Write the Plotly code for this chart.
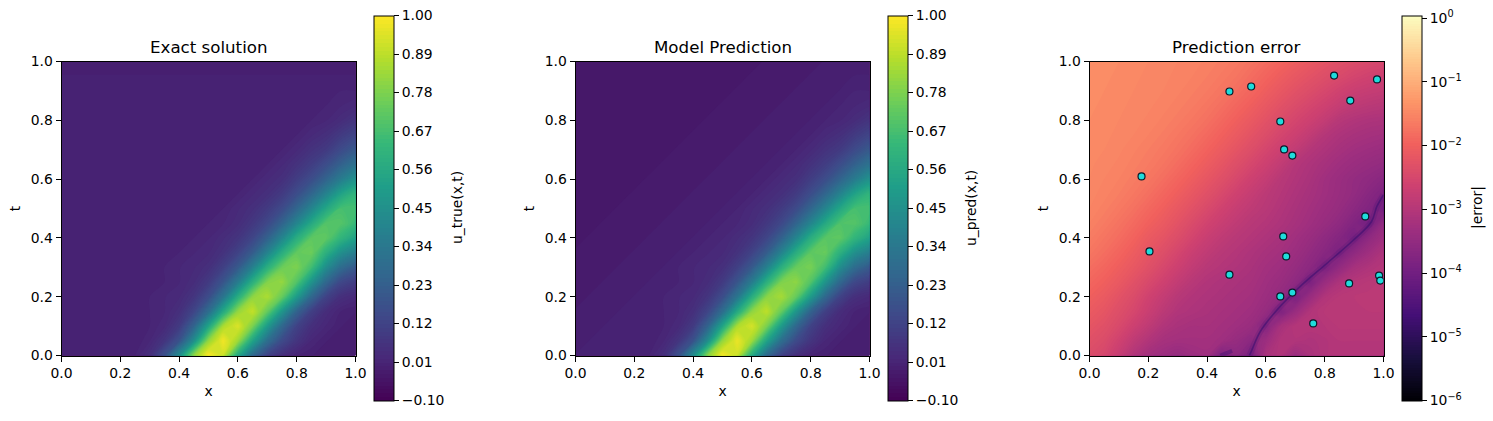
import plotly.graph_objects as go

W, H = 1493, 421
x_grid = [0, .05, .1, .15, .2, .25, .3, .35, .4, .45, .5, .55, .6, .65, .7, .75, .8, .85, .9, .95, 1]
t_grid = [0, .05, .1, .15, .2, .25, .3, .35, .4, .45, .5, .55, .6, .65, .7, .75, .8, .85, .9, .95, 1]

u_true = [
[0,0,0,0,0,.01,.05,.18,.44,.82,1.0,.92,.56,.28,.12,.05,.01,0,-.01,-.01,-.01],
[0,0,0,0,0,0,.02,.07,.18,.44,.82,.98,.84,.54,.3,.15,.07,.02,0,-.01,-.01],
[0,0,0,0,0,0,.01,.03,.09,.25,.54,.86,.94,.78,.5,.27,.12,.05,.02,0,-.01],
[0,0,0,0,0,0,.01,.02,.05,.13,.29,.56,.82,.9,.74,.48,.25,.11,.04,.01,0],
[0,0,0,0,0,0,.01,.02,.03,.07,.16,.33,.58,.81,.86,.74,.5,.27,.12,.05,.03],
[0,0,0,0,0,0,0,.01,.02,.04,.09,.19,.36,.59,.79,.82,.7,.47,.27,.14,.1],
[0,0,0,0,0,0,0,.01,.02,.03,.05,.11,.21,.38,.59,.75,.78,.66,.44,.29,.21],
[0,0,0,0,0,0,0,0,.01,.02,.03,.06,.12,.22,.39,.58,.73,.75,.6,.45,.37],
[0,0,0,0,0,0,0,0,0,.01,.02,.04,.07,.13,.24,.4,.58,.72,.72,.62,.53],
[0,0,0,0,0,0,0,0,0,0,.01,.02,.04,.08,.14,.25,.4,.56,.7,.7,.64],
[0,0,0,0,0,0,0,0,0,0,0,.01,.03,.05,.09,.15,.26,.4,.55,.67,.67],
[0,0,0,0,0,0,0,0,0,0,0,0,.01,.03,.05,.09,.16,.26,.39,.53,.62],
[0,0,0,0,0,0,0,0,0,0,0,0,0,.01,.03,.05,.1,.16,.25,.36,.46],
[0,0,0,0,0,0,0,0,0,0,0,0,0,0,.01,.03,.06,.1,.16,.24,.32],
[0,0,0,0,0,0,0,0,0,0,0,0,0,0,0,.01,.03,.06,.09,.15,.21],
[0,0,0,0,0,0,0,0,0,0,0,0,0,0,0,0,.01,.03,.05,.09,.13],
[0,0,0,0,0,0,0,0,0,0,0,0,0,0,0,0,0,.01,.02,.04,.07],
[0,0,0,0,0,0,0,0,0,0,0,0,0,0,0,0,0,0,.01,.02,.03],
[0,0,0,0,0,0,0,0,0,0,0,0,0,0,0,0,0,0,0,.01,.01],
[0,0,0,0,0,0,0,0,0,0,0,0,0,0,0,0,0,0,0,0,0],
[-.01,-.01,-.01,-.01,-.01,-.01,-.01,-.01,-.01,-.01,-.01,-.01,-.01,-.01,-.01,-.01,-.01,-.01,-.01,-.01,-.01],
]

u_pred = [
[0,0,0,0,0,.01,.05,.18,.44,.81,.99,.92,.57,.28,.12,.05,.01,0,-.01,-.01,-.01],
[-.01,0,0,0,0,0,.02,.07,.18,.44,.82,.97,.84,.54,.3,.15,.07,.02,0,-.01,-.01],
[-.01,-.01,0,0,0,0,.01,.03,.09,.25,.54,.86,.93,.78,.5,.27,.12,.05,.02,0,-.01],
[-.01,-.01,-.01,0,0,0,.01,.02,.05,.13,.29,.56,.81,.89,.74,.48,.25,.11,.04,.01,0],
[-.02,-.01,-.01,-.01,0,0,.01,.02,.03,.07,.16,.33,.58,.8,.85,.74,.5,.27,.12,.05,.03],
[-.02,-.02,-.01,-.01,-.01,0,0,.01,.02,.04,.09,.19,.36,.59,.78,.81,.7,.47,.27,.14,.1],
[-.02,-.02,-.02,-.01,-.01,-.01,0,.01,.02,.03,.05,.11,.21,.38,.59,.74,.77,.66,.44,.29,.21],
[-.02,-.02,-.02,-.02,-.01,-.01,-.01,0,.01,.02,.03,.06,.12,.22,.39,.58,.72,.74,.6,.45,.37],
[-.03,-.02,-.02,-.02,-.02,-.01,-.01,-.01,0,.01,.02,.04,.07,.13,.24,.4,.58,.71,.72,.62,.53],
[-.03,-.03,-.02,-.02,-.02,-.02,-.01,-.01,-.01,0,.01,.02,.04,.08,.14,.25,.4,.56,.69,.7,.64],
[-.03,-.03,-.03,-.02,-.02,-.02,-.02,-.01,-.01,-.01,0,.01,.03,.05,.09,.15,.26,.4,.55,.67,.67],
[-.03,-.03,-.03,-.03,-.02,-.02,-.02,-.02,-.01,-.01,-.01,0,.01,.03,.05,.09,.16,.26,.39,.53,.62],
[-.03,-.03,-.03,-.03,-.03,-.02,-.02,-.02,-.02,-.01,-.01,-.01,0,.01,.03,.05,.1,.16,.25,.36,.46],
[-.03,-.03,-.03,-.03,-.03,-.03,-.02,-.02,-.02,-.02,-.01,-.01,-.01,0,.01,.03,.06,.1,.16,.24,.32],
[-.03,-.03,-.03,-.03,-.03,-.03,-.03,-.02,-.02,-.02,-.02,-.01,-.01,-.01,0,.01,.03,.06,.09,.15,.21],
[-.03,-.03,-.03,-.03,-.03,-.03,-.03,-.03,-.02,-.02,-.02,-.02,-.01,-.01,-.01,0,.01,.03,.05,.09,.13],
[-.03,-.03,-.03,-.03,-.03,-.03,-.03,-.03,-.03,-.02,-.02,-.02,-.02,-.01,-.01,-.01,0,.01,.02,.04,.07],
[-.03,-.03,-.03,-.03,-.03,-.03,-.03,-.03,-.03,-.03,-.02,-.02,-.02,-.02,-.01,-.01,-.01,0,.01,.02,.03],
[-.03,-.03,-.03,-.03,-.03,-.03,-.03,-.03,-.03,-.03,-.03,-.02,-.02,-.02,-.02,-.01,-.01,-.01,0,.01,.01],
[-.03,-.03,-.03,-.03,-.03,-.03,-.03,-.03,-.03,-.03,-.03,-.03,-.02,-.02,-.02,-.02,-.01,-.01,-.01,0,0],
[-.03,-.03,-.03,-.03,-.03,-.03,-.03,-.03,-.03,-.03,-.03,-.03,-.03,-.02,-.02,-.02,-.02,-.01,-.01,-.01,-.01],
]

log_error = [
[-2.40,-2.50,-2.75,-3.05,-3.25,-3.35,-3.45,-3.35,-3.30,-3.80,-3.60,-3.85,-3.15,-3.05,-3.35,-3.15,-3.05,-3.00,-3.00,-3.00,-3.00],
[-2.30,-2.40,-2.60,-2.85,-3.05,-3.20,-3.25,-3.25,-3.25,-3.30,-3.45,-3.60,-3.35,-3.05,-3.05,-3.10,-3.05,-3.00,-3.00,-3.00,-3.00],
[-2.20,-2.30,-2.45,-2.65,-2.85,-3.05,-3.15,-3.20,-3.20,-3.25,-3.30,-3.40,-3.70,-3.20,-3.00,-3.00,-3.00,-2.95,-2.95,-2.95,-2.95],
[-2.10,-2.20,-2.35,-2.50,-2.70,-2.90,-3.05,-3.10,-3.15,-3.20,-3.25,-3.30,-3.45,-3.80,-3.40,-3.05,-2.95,-2.95,-2.92,-2.92,-2.92],
[-2.00,-2.10,-2.25,-2.40,-2.60,-2.78,-2.95,-3.05,-3.10,-3.15,-3.20,-3.25,-3.35,-3.50,-3.85,-3.40,-3.05,-2.95,-2.92,-2.90,-2.90],
[-1.90,-2.00,-2.12,-2.28,-2.45,-2.62,-2.80,-2.95,-3.05,-3.10,-3.15,-3.20,-3.30,-3.40,-3.55,-3.85,-3.40,-3.10,-3.00,-2.95,-2.90],
[-1.80,-1.90,-2.02,-2.15,-2.30,-2.48,-2.65,-2.82,-2.95,-3.02,-3.08,-3.15,-3.25,-3.32,-3.45,-3.60,-3.85,-3.50,-3.20,-3.08,-3.00],
[-1.70,-1.80,-1.92,-2.05,-2.20,-2.35,-2.52,-2.70,-2.84,-2.95,-3.02,-3.10,-3.18,-3.25,-3.35,-3.50,-3.65,-3.85,-3.55,-3.30,-3.10],
[-1.62,-1.72,-1.82,-1.95,-2.10,-2.22,-2.38,-2.55,-2.72,-2.85,-2.95,-3.02,-3.10,-3.18,-3.28,-3.40,-3.55,-3.70,-3.90,-3.55,-3.30],
[-1.56,-1.64,-1.74,-1.85,-1.98,-2.10,-2.25,-2.42,-2.58,-2.72,-2.85,-2.95,-3.02,-3.10,-3.20,-3.30,-3.42,-3.55,-3.75,-3.95,-3.50],
[-1.52,-1.58,-1.66,-1.76,-1.88,-2.00,-2.14,-2.28,-2.44,-2.60,-2.74,-2.86,-2.95,-3.05,-3.15,-3.25,-3.35,-3.45,-3.60,-3.75,-3.95],
[-1.50,-1.54,-1.60,-1.68,-1.78,-1.90,-2.02,-2.16,-2.30,-2.46,-2.62,-2.76,-2.90,-3.00,-3.10,-3.20,-3.30,-3.40,-3.50,-3.65,-3.80],
[-1.48,-1.52,-1.56,-1.62,-1.70,-1.80,-1.92,-2.04,-2.18,-2.32,-2.48,-2.64,-2.78,-2.95,-3.05,-3.15,-3.28,-3.38,-3.48,-3.55,-3.65],
[-1.47,-1.50,-1.53,-1.58,-1.64,-1.72,-1.82,-1.94,-2.06,-2.20,-2.35,-2.50,-2.65,-2.82,-3.00,-3.10,-3.20,-3.30,-3.38,-3.45,-3.50],
[-1.46,-1.48,-1.51,-1.55,-1.60,-1.66,-1.74,-1.84,-1.96,-2.08,-2.22,-2.36,-2.52,-2.66,-2.82,-3.00,-3.10,-3.20,-3.28,-3.33,-3.38],
[-1.45,-1.47,-1.49,-1.52,-1.56,-1.61,-1.68,-1.76,-1.86,-1.98,-2.10,-2.24,-2.38,-2.53,-2.66,-2.82,-3.00,-3.10,-3.17,-3.22,-3.25],
[-1.44,-1.46,-1.48,-1.50,-1.53,-1.57,-1.62,-1.69,-1.77,-1.88,-2.00,-2.12,-2.26,-2.40,-2.53,-2.65,-2.80,-2.97,-3.05,-3.10,-3.12],
[-1.43,-1.45,-1.47,-1.49,-1.51,-1.54,-1.58,-1.63,-1.70,-1.79,-1.90,-2.01,-2.14,-2.27,-2.40,-2.52,-2.63,-2.76,-2.86,-2.92,-2.96],
[-1.42,-1.44,-1.46,-1.48,-1.50,-1.52,-1.55,-1.59,-1.64,-1.71,-1.80,-1.91,-2.03,-2.15,-2.27,-2.38,-2.49,-2.60,-2.70,-2.76,-2.80],
[-1.41,-1.43,-1.45,-1.47,-1.49,-1.51,-1.53,-1.56,-1.60,-1.65,-1.72,-1.82,-1.93,-2.04,-2.15,-2.25,-2.35,-2.44,-2.53,-2.60,-2.65],
[-1.40,-1.42,-1.44,-1.46,-1.48,-1.50,-1.52,-1.54,-1.57,-1.61,-1.66,-1.74,-1.83,-1.93,-2.03,-2.13,-2.22,-2.31,-2.39,-2.45,-2.50],
]

sample_x = [.476, .550, .832, .978, .887, .649, .662, .690, .177, .204, .938, .659, .669, .476, .649, .690, .883, .985, .989, .761]
sample_t = [.898, .915, .952, .939, .867, .796, .701, .680, .609, .354, .473, .405, .337, .275, .201, .214, .245, .272, .255, .109]

valley_x = [.544, .552, .580, .637, .716, .807, .897, .959, .977, 1.0]
valley_t = [0, .018, .08, .154, .234, .313, .392, .455, .506, .546]
blob_x = [.445, .465, .485]
blob_t = [0, .008, .016]

lin_ticks = [-.10, .01, .12, .23, .34, .45, .56, .67, .78, .89, 1.00]
lin_labels = ["\u22120.10", "0.01", "0.12", "0.23", "0.34", "0.45", "0.56", "0.67", "0.78", "0.89", "1.00"]
log_ticks = [-6, -5, -4, -3, -2, -1, 0]
log_labels = ["10<sup>\u2212%d</sup>" % k for k in (6, 5, 4, 3, 2, 1)] + ["10<sup>0</sup>"]
axis_ticks = [0, .2, .4, .6, .8, 1.0]
axis_labels = ["0.0", "0.2", "0.4", "0.6", "0.8", "1.0"]
titles = ["Exact solution", "Model Prediction", "Prediction error"]
cb_titles = ["u_true(x,t)", "u_pred(x,t)", "|error|"]

FONT = "DejaVu Sans"
panel_left = [61.5, 575.5, 1089.5]
panel_w = 294
top, bottom = 61.5, 355.5
cb_left = [374, 888, 1402]
cb_title_x = [457, 971, 1477]
cb_top, cb_bottom = 15.5, 400.5


def colorbar(i, vals, text):
    return dict(
        x=cb_left[i] / W, xref="paper", xanchor="left",
        y=1 - (cb_top + cb_bottom) / 2 / H, yref="paper", yanchor="middle",
        len=(cb_bottom - cb_top) / H, lenmode="fraction",
        thickness=20, thicknessmode="pixels", xpad=0, ypad=0,
        outlinecolor="black", outlinewidth=1,
        ticks="outside", ticklen=5, tickwidth=1, tickcolor="black",
        tickmode="array", tickvals=vals, ticktext=text,
        tickfont=dict(family=FONT, size=13.9, color="black"),
    )


def filled(z, sfx, scale, lo, hi, step, i, vals, text):
    return go.Contour(x=x_grid, y=t_grid, z=z, colorscale=scale, zmin=lo, zmax=hi,
                      autocontour=False, contours=dict(start=lo, end=hi, size=step, coloring="fill", showlines=False),
                      line=dict(width=0, smoothing=1.0),
                      xaxis="x" + sfx, yaxis="y" + sfx, hoverinfo="skip",
                      colorbar=colorbar(i, vals, text))


fig = go.Figure()
fig.add_trace(filled(u_true, "", "Viridis", -.1, 1, .011, 0, lin_ticks, lin_labels))
fig.add_trace(filled(u_pred, "2", "Viridis", -.1, 1, .011, 1, lin_ticks, lin_labels))
fig.add_trace(filled(log_error, "3", "Magma", -6, .04, .04, 2, log_ticks, log_labels))
fig.add_trace(go.Scatter(x=valley_x, y=valley_t, mode="lines", xaxis="x3", yaxis="y3", showlegend=False,
                         line=dict(color="rgba(60,15,112,0.18)", width=6, shape="spline"), hoverinfo="skip"))
fig.add_trace(go.Scatter(x=valley_x, y=valley_t, mode="lines", xaxis="x3", yaxis="y3", showlegend=False,
                         line=dict(color="rgba(60,15,112,0.6)", width=1.6, shape="spline"), hoverinfo="skip"))
fig.add_trace(go.Scatter(x=blob_x, y=blob_t, mode="lines", xaxis="x3", yaxis="y3", showlegend=False,
                         line=dict(color="rgba(60,15,112,0.4)", width=4), hoverinfo="skip"))
fig.add_trace(go.Scatter(x=sample_x, y=sample_t, mode="markers", xaxis="x3", yaxis="y3", showlegend=False,
                         marker=dict(color="#1fdcdc", size=7, line=dict(color="#0a1a2a", width=1.2)),
                         hoverinfo="skip"))

layout = dict(width=W, height=H, margin=dict(l=0, r=0, t=0, b=0, autoexpand=False), paper_bgcolor="white",
              plot_bgcolor="white", showlegend=False, font=dict(family=FONT, size=13.9, color="black"))
for i in range(3):
    sfx = "" if i == 0 else str(i + 1)
    common = dict(range=[0, 1], tickmode="array", tickvals=axis_ticks, ticktext=axis_labels,
                  ticks="outside", ticklen=5, tickwidth=1, tickcolor="black", showgrid=False, zeroline=False,
                  showline=True, linecolor="black", linewidth=1, mirror=True, automargin=False, tickangle=0,
                  tickfont=dict(family=FONT, size=13.9, color="black"))
    layout["xaxis" + sfx] = dict(common, domain=[panel_left[i] / W, (panel_left[i] + panel_w) / W],
                                 anchor="y" + sfx, title=dict(text="x", standoff=6,
                                 font=dict(family=FONT, size=13.9, color="black")))
    layout["yaxis" + sfx] = dict(common, domain=[1 - bottom / H, 1 - top / H],
                                 anchor="x" + sfx, title=dict(text="t", standoff=6,
                                 font=dict(family=FONT, size=13.9, color="black")))
fig.update_layout(**layout)
for i in range(3):
    fig.add_annotation(text=titles[i], xref="paper", yref="paper", xanchor="center",
                       x=(panel_left[i] + panel_w / 2) / W, y=1 - top / H, yanchor="bottom", yshift=2,
                       showarrow=False, font=dict(family=FONT, size=16.67, color="black"))
    fig.add_annotation(text=cb_titles[i], xref="paper", yref="paper", xanchor="center", yanchor="middle",
                       x=cb_title_x[i] / W, y=1 - 208 / H, textangle=-90,
                       showarrow=False, font=dict(family=FONT, size=13.9, color="black"))

fig.write_html("out.html", config={"displayModeBar": False}, post_script="document.body.style.margin='0';")
